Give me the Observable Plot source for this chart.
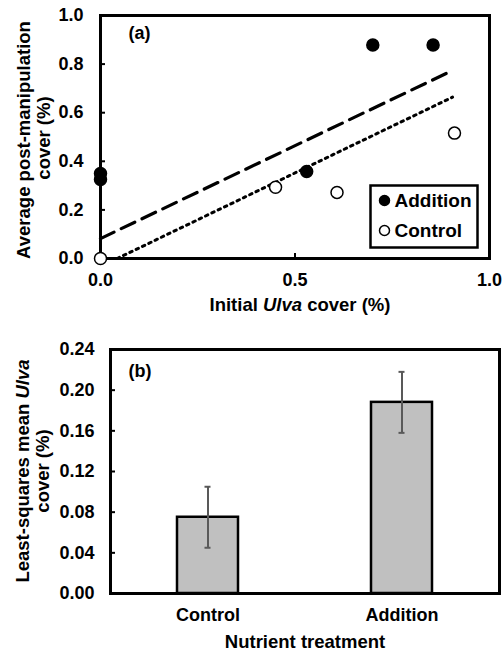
<!DOCTYPE html>
<html><head><meta charset="utf-8">
<script src="https://cdn.jsdelivr.net/npm/d3@7"></script>
<script src="https://cdn.jsdelivr.net/npm/@observablehq/plot@0.6"></script>
<style>
body{margin:0;background:#fff;font-family:"Liberation Sans",Arial,sans-serif;}
#wrap{position:relative;width:504px;height:653px;background:#fff;}
#a{position:absolute;left:0;top:0;}
#b{position:absolute;left:0;top:320px;}
</style></head><body><div id="wrap"><div id="a"></div><div id="b"></div></div>
<script>
// Panel (a) data
const additionInitial = [0, 0, 0.53, 0.70, 0.855];
const additionPost    = [0.35, 0.325, 0.358, 0.879, 0.879];
const controlInitial  = [0, 0.45, 0.608, 0.91];
const controlPost     = [0, 0.293, 0.272, 0.516];
const additionFitX = [0, 0.90];
const additionFitY = [0.082, 0.77];
const controlFitX  = [0.043, 0.905];
const controlFitY  = [0, 0.664];
const xTicksA = [0, 0.5, 1.0];
const yTicksA = [0, 0.2, 0.4, 0.6, 0.8, 1.0];
const seriesNames = ["Addition", "Control"];

// Panel (b) data
const treatments = ["Control", "Addition"];
const lsMean = [0.075, 0.188];
const stdErr = [0.030, 0.030];
const yTicksB = [0, 0.04, 0.08, 0.12, 0.16, 0.20, 0.24];

const FONT = "'Liberation Sans', Arial, sans-serif";
const baseStyle = {fontFamily: FONT, fontSize: "18px", fontWeight: "bold", color: "black", background: "white", overflow: "visible"};

const addRows = additionInitial.map((x, i) => ({x, y: additionPost[i]}));
const ctlRows = controlInitial.map((x, i) => ({x, y: controlPost[i]}));
const addFit = additionFitX.map((x, i) => ({x, y: additionFitY[i]}));
const ctlFit = controlFitX.map((x, i) => ({x, y: controlFitY[i]}));

const svgA = Plot.plot({
  width: 504, height: 320,
  marginLeft: 100, marginRight: 15, marginTop: 15, marginBottom: 62,
  style: baseStyle,
  x: {domain: [0, 1]},
  y: {domain: [0, 1]},
  marks: [
    Plot.axisY(yTicksA, {tickSize: 0, tickPadding: 17, tickFormat: d3.format(".1f"), label: null}),
    Plot.axisY(yTicksA.slice(1, -1), {tickSize: 5, dx: 5, text: null, strokeWidth: 2, label: null}),
    Plot.axisX(xTicksA, {tickSize: 0, tickPadding: 15, tickFormat: d3.format(".1f"), label: null}),
    Plot.axisX([0.5], {tickSize: 5, dy: -5, text: null, strokeWidth: 2, label: null}),
    Plot.line(addFit, {x: "x", y: "y", stroke: "black", strokeWidth: 3.2, strokeDasharray: "15,8"}),
    Plot.line(ctlFit, {x: "x", y: "y", stroke: "black", strokeWidth: 3, strokeDasharray: "2.5,4.5"}),
    Plot.frame({stroke: "black", strokeWidth: 3}),
    Plot.dot(addRows, {x: "x", y: "y", r: 6, fill: "black", stroke: "black"}),
    Plot.dot(ctlRows, {x: "x", y: "y", r: 6, fill: "white", stroke: "black", strokeWidth: 1.5}),
    Plot.text(["(a)"], {frameAnchor: "top-left", dx: 28, dy: 18, textAnchor: "start", lineAnchor: "middle", fontSize: 18}),
    // legend
    Plot.frame({insetLeft: 270, insetRight: 12, insetTop: 170, insetBottom: 11, stroke: "black", strokeWidth: 2.5, fill: "white"}),
    Plot.dot([seriesNames[0]], {frameAnchor: "bottom-right", dx: -105, dy: -58, r: 5, fill: "black", stroke: "black"}),
    Plot.dot([seriesNames[1]], {frameAnchor: "bottom-right", dx: -105, dy: -28, r: 5, fill: "white", stroke: "black", strokeWidth: 1.5}),
    Plot.text([seriesNames[0]], {text: d => d, frameAnchor: "bottom-right", dx: -95, dy: -58, textAnchor: "start", lineAnchor: "middle", fontSize: 19}),
    Plot.text([seriesNames[1]], {text: d => d, frameAnchor: "bottom-right", dx: -95, dy: -28, textAnchor: "start", lineAnchor: "middle", fontSize: 19})
  ]
});

const bRows = treatments.map((t, i) => ({t, m: lsMean[i], lo: lsMean[i] - stdErr[i], hi: lsMean[i] + stdErr[i]}));

const svgB = Plot.plot({
  width: 504, height: 333,
  marginLeft: 110, marginRight: 5, marginTop: 29, marginBottom: 60,
  style: baseStyle,
  x: {domain: treatments, paddingInner: 0.686, paddingOuter: 0.343},
  y: {domain: [0, 0.24]},
  marks: [
    Plot.axisY(yTicksB, {tickSize: 0, tickPadding: 16, tickFormat: d3.format(".2f"), label: null}),
    Plot.axisY(yTicksB.slice(1, -1), {tickSize: 5, dx: 5, text: null, strokeWidth: 2, label: null}),
    Plot.axisX({tickSize: 0, tickPadding: 15, label: null}),
    Plot.barY(bRows, {x: "t", y: "m", fill: "#c0c0c0", stroke: "black", strokeWidth: 2.5}),
    Plot.ruleX(bRows, {x: "t", y1: "lo", y2: "hi", stroke: "#595959", strokeWidth: 2}),
    Plot.tickY(bRows, {x: "t", y: "lo", stroke: "#595959", strokeWidth: 2, insetLeft: 27.5, insetRight: 27.5}),
    Plot.tickY(bRows, {x: "t", y: "hi", stroke: "#595959", strokeWidth: 2, insetLeft: 27.5, insetRight: 27.5}),
    Plot.frame({stroke: "black", strokeWidth: 3}),
    Plot.text(["(b)"], {frameAnchor: "top-left", dx: 18, dy: 22, textAnchor: "start", lineAnchor: "middle", fontSize: 18})
  ]
});

function addLabel(svg, x, y, parts, rotate) {
  const t = d3.select(svg).append("text")
    .attr("text-anchor", "middle")
    .attr("font-family", FONT)
    .attr("font-size", 18.5)
    .attr("font-weight", "bold")
    .attr("fill", "black")
    .attr("dy", "0.35em")
    .attr("transform", rotate ? `translate(${x},${y}) rotate(-90)` : `translate(${x},${y})`);
  parts.forEach(([s, it]) => t.append("tspan").attr("font-style", it ? "italic" : null).text(s));
}

addLabel(svgA, 24, 140, [["Average post-manipulation", false]], true);
addLabel(svgA, 44, 138, [["cover (%)", false]], true);
addLabel(svgA, 300, 305, [["Initial ", false], ["Ulva", true], [" cover (%)", false]], false);

addLabel(svgB, 23, 151, [["Least-squares mean ", false], ["Ulva", true]], true);
addLabel(svgB, 43, 151, [["cover (%)", false]], true);
addLabel(svgB, 305, 322, [["Nutrient treatment", false]], false);

document.getElementById("a").appendChild(svgA);
document.getElementById("b").appendChild(svgB);
</script>
</body></html>
